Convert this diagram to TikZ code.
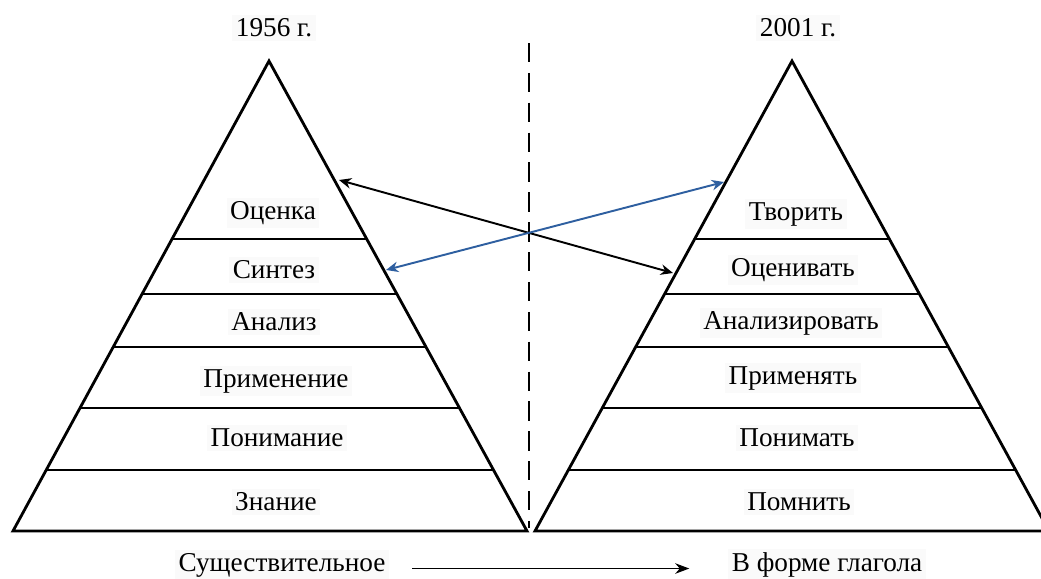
\documentclass[tikz,border=0pt]{standalone}
\usepackage{fontspec}
\setmainfont{Liberation Serif}
\usetikzlibrary{calc,arrows.meta}
\definecolor{arrowblue}{RGB}{46,95,160}

\begin{document}
\begin{tikzpicture}[x=0.02cm, y=-0.02cm,
    edge/.style={line width=1.6pt, line join=miter},
    lbl/.style={fill=black!2, inner sep=2pt, font=\fontsize{15.5}{18}\selectfont},
    link/.style={line width=1.1pt, {Stealth[length=7pt,width=6pt]}-{Stealth[length=7pt,width=6pt]}}]
            \useasboundingbox (0, 0) rectangle (1041, 578);

            \coordinate (lt) at (269, 61);
            \coordinate (lbl) at (13, 531);
            \coordinate (lbr) at (527, 531);
            \coordinate (rt) at (792, 61);
            \coordinate (rbl) at (535, 531);
            \coordinate (rbr) at (1049, 531);

            \draw[edge] (lbl) -- (lt) -- (lbr) -- cycle;
            \draw[edge] (rbl) -- (rt) -- (rbr) -- cycle;
            \foreach \t in {0.3787, 0.4957, 0.6085, 0.7383, 0.8702} {
                \draw[edge] ($(lt)!\t!(lbl)$) -- ($(lt)!\t!(lbr)$);
                \draw[edge] ($(rt)!\t!(rbl)$) -- ($(rt)!\t!(rbr)$);
            }

            \draw[line width=1.4pt, dash pattern=on 11pt off 6pt] (529, 43) -- (529, 528);

            \node[lbl] at (274, 28) (yl) {1956 г.};
            \node[lbl] at (798, 28) (yr) {2001 г.};

            \node[lbl] at (273, 213) (eval) {Оценка};
            \node[lbl] at (274, 270) (synth) {Синтез};
            \node[lbl] at (274, 322) (anal) {Анализ};
            \node[lbl] at (276, 381) (appl) {Применение};
            \node[lbl] at (277, 438) (comp) {Понимание};
            \node[lbl] at (276, 502) (know) {Знание};

            \node[lbl] at (796, 214) (create) {Творить};
            \node[lbl] at (793, 270) (evalv) {Оценивать};
            \node[lbl] at (791, 323) (analv) {Анализировать};
            \node[lbl] at (793, 378) (applv) {Применять};
            \node[lbl] at (797, 438) (compv) {Понимать};
            \node[lbl] at (799, 502) (rem) {Помнить};

            \node[lbl] at (282, 565) (noun) {Существительное};
            \node[lbl] at (827, 565) (verb) {В форме глагола};

            \coordinate (a1) at (339, 180);
            \coordinate (a2) at (673, 273);
            \coordinate (b1) at (386, 270);
            \coordinate (b2) at (724, 182);

            \draw[link, black] (a1) -- (a2);
            \draw[link, arrowblue] (b1) -- (b2);
            \draw[line width=0.6pt, -{Stealth[length=8pt,width=6pt]}] ([xshift=13pt, yshift=-2pt]noun.east) -- ([xshift=-22pt, yshift=-2pt]verb.west);
        \end{tikzpicture}
\end{document}
